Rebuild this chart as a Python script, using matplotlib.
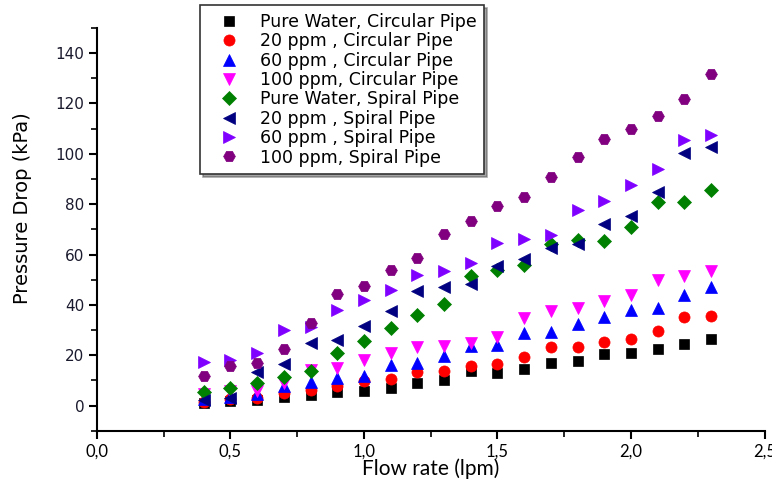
import matplotlib.pyplot as plt
from matplotlib.ticker import MultipleLocator, FuncFormatter

flow = [0.4, 0.5, 0.6, 0.7, 0.8, 0.9, 1.0, 1.1, 1.2, 1.3,
        1.4, 1.5, 1.6, 1.7, 1.8, 1.9, 2.0, 2.1, 2.2, 2.3]

water_circular = [1.1, 1.6, 2.3, 3.3, 4.3, 5.3, 5.7, 6.9, 9.0, 10.3,
                  13.6, 13.0, 14.7, 16.8, 17.6, 20.3, 20.8, 22.4, 24.3, 26.3]
ppm20_circular = [1.5, 2.5, 2.8, 4.9, 6.0, 7.6, 9.6, 10.6, 13.2, 13.8,
                  15.6, 16.4, 19.2, 23.2, 23.2, 25.2, 26.5, 29.7, 35.0, 35.4]
ppm60_circular = [2.7, 3.3, 4.4, 7.7, 9.3, 11.0, 11.9, 16.2, 17.0, 19.8,
                  23.6, 24.0, 28.8, 29.4, 32.2, 35.1, 37.8, 38.9, 43.8, 47.1]
ppm100_circular = [4.6, 5.6, 5.8, 8.9, 14.2, 15.0, 18.0, 21.0, 23.4, 23.7,
                   24.8, 27.4, 34.7, 37.5, 38.7, 41.6, 43.9, 50.0, 51.3, 53.4]
water_spiral = [5.3, 7.0, 8.9, 11.5, 13.9, 20.8, 25.8, 30.7, 35.8, 40.3,
                51.3, 53.7, 56.0, 64.0, 65.6, 65.4, 70.9, 80.9, 80.9, 85.5]
ppm20_spiral = [2.3, 2.9, 13.3, 16.3, 24.8, 25.9, 31.5, 37.5, 45.5, 46.9,
                48.4, 55.3, 58.2, 62.7, 64.3, 72.0, 75.3, 85.0, 100.5, 102.6]
ppm60_spiral = [17.2, 17.9, 21.0, 30.1, 31.2, 37.8, 42.0, 46.0, 52.0, 53.4,
                56.8, 64.7, 66.3, 67.9, 77.7, 81.1, 87.8, 94.1, 105.4, 107.3]
ppm100_spiral = [11.7, 15.6, 16.8, 22.5, 32.9, 44.4, 47.5, 53.8, 58.8, 68.1,
                 73.5, 79.2, 82.9, 90.8, 98.8, 105.8, 109.9, 115.1, 121.6, 131.9]

labels = ["Pure Water, Circular Pipe", "20 ppm , Circular Pipe",
          "60 ppm , Circular Pipe", "100 ppm, Circular Pipe",
          "Pure Water, Spiral Pipe", "20 ppm , Spiral Pipe",
          "60 ppm , Spiral Pipe", "100 ppm, Spiral Pipe"]
series = [water_circular, ppm20_circular, ppm60_circular, ppm100_circular,
          water_spiral, ppm20_spiral, ppm60_spiral, ppm100_spiral]
colors = ["black", "#ff0000", "#0000ff", "#ff00ff",
          "#008000", "#000080", "#8000ff", "#800080"]
markers = ["s", "o", "^", "v", "D", "<", ">", "H"]
sizes = [7, 8, 8.5, 8.5, 7, 8.5, 8.5, 8.5]

fig = plt.figure(figsize=(7.72, 4.86), dpi=100)
ax = fig.add_axes([0.1256, 0.1138, 0.8647, 0.8286])

for vals, lab, c, m, s in zip(series, labels, colors, markers, sizes):
    ax.plot(flow, vals, linestyle="none", marker=m, markersize=s,
            color=c, markeredgecolor=c, markeredgewidth=0.5, label=lab)

ax.set_xlim(0, 2.5)
ax.set_ylim(-10, 150)
ax.spines["top"].set_visible(False)
ax.spines["right"].set_visible(False)
for side in ["left", "bottom"]:
    ax.spines[side].set_linewidth(1.5)

ax.xaxis.set_major_locator(MultipleLocator(0.5))
ax.xaxis.set_minor_locator(MultipleLocator(0.25))
ax.yaxis.set_major_locator(MultipleLocator(20))
ax.yaxis.set_minor_locator(MultipleLocator(10))
ax.xaxis.set_major_formatter(FuncFormatter(lambda v, p: f"{v:.1f}".replace(".", ",")))
ax.tick_params(which="major", length=6, width=1.5, direction="out")
ax.tick_params(which="minor", length=4, width=1.2, direction="out")
ax.tick_params(axis="x", pad=3)
ax.tick_params(axis="y", pad=3)
for t in ax.get_xticklabels():
    t.set_family("Lato")
    t.set_fontsize(12)
for t in ax.get_yticklabels():
    t.set_family("DejaVu Sans")
    t.set_fontsize(11)
    t.set_color("#1a1a2e")

ax.set_xlabel("Flow rate (lpm)", family="Lato", fontsize=15, va="center")
ax.xaxis.set_label_coords(0.5, -0.095)
ax.set_ylabel("Pressure Drop (kPa)", family="DejaVu Sans", fontsize=14, va="center")
ax.yaxis.set_label_coords(-0.112, 0.553)

leg = ax.legend(loc="upper left", bbox_to_anchor=(200 / 772, 1 - 5 / 486),
                bbox_transform=fig.transFigure, borderaxespad=0,
                prop={"family": "DejaVu Sans", "size": 12.5},
                numpoints=1, handlelength=2.4, handletextpad=0.6,
                borderpad=0.45, labelspacing=0.08, fancybox=False,
                shadow=True, framealpha=1, edgecolor="#333333")
leg.get_frame().set_linewidth(1.2)

fig.savefig("out.png", dpi=100)
